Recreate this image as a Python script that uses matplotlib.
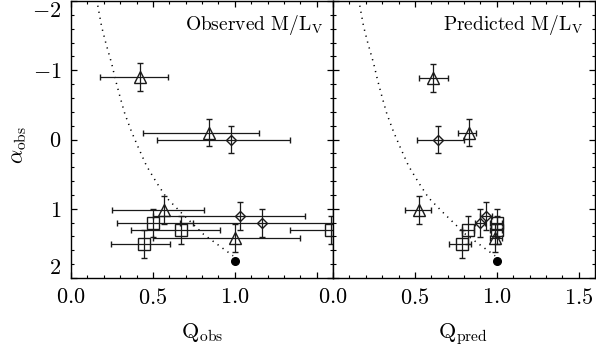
import matplotlib
matplotlib.use('Agg')
import matplotlib.pyplot as plt
from matplotlib.ticker import MultipleLocator, FixedLocator, FixedFormatter

plt.rcParams['font.family'] = 'cmr10'
plt.rcParams['mathtext.fontset'] = 'cm'
plt.rcParams['axes.unicode_minus'] = True

## Data

# dotted model curve, Q vs alpha
curve_q = [0.158, 0.163, 0.187, 0.213, 0.248, 0.272, 0.300, 0.329, 0.370, 0.410,
           0.461, 0.522, 0.583, 0.670, 0.810, 0.990]
curve_a = [-2.02, -1.94, -1.63, -1.39, -1.10, -0.86, -0.61, -0.37, -0.11, 0.11,
           0.38, 0.62, 0.84, 1.05, 1.37, 1.68]
end_q = 1.0
end_a = 1.75

# observed M/L panel
obs_tri_q = [0.42, 0.84, 0.57, 1.00]
obs_tri_a = [-0.90, -0.10, 1.02, 1.42]
obs_tri_lo = [0.24, 0.40, 0.32, 0.50]
obs_tri_hi = [0.17, 0.31, 0.24, 0.40]

obs_dia_q = [0.976, 1.03, 1.166]
obs_dia_a = [0.00, 1.10, 1.21]
obs_dia_lo = [0.45, 0.53, 0.50]
obs_dia_hi = [0.36, 0.40, 0.50]

obs_sq_q = [0.498, 0.669, 0.443, 1.59]
obs_sq_a = [1.21, 1.31, 1.51, 1.31]
obs_sq_lo = [0.22, 0.30, 0.20, 0.25]
obs_sq_hi = [0.25, 0.24, 0.16, 0.25]

# predicted M/L panel
pred_tri_q = [0.61, 0.83, 0.526, 0.99]
pred_tri_a = [-0.89, -0.10, 1.02, 1.42]
pred_tri_lo = [0.085, 0.065, 0.086, 0.03]
pred_tri_hi = [0.09, 0.046, 0.074, 0.04]

pred_dia_q = [0.644, 0.933, 0.900]
pred_dia_a = [0.00, 1.10, 1.21]
pred_dia_lo = [0.128, 0.037, 0.034]
pred_dia_hi = [0.156, 0.037, 0.03]

pred_sq_q = [0.825, 0.785, 1.00, 1.00]
pred_sq_a = [1.31, 1.51, 1.21, 1.31]
pred_sq_lo = [0.035, 0.075, 0.04, 0.04]
pred_sq_hi = [0.035, 0.06, 0.03, 0.03]

a_err = 0.2

xticks = [0.0, 0.5, 1.0, 1.5]
xlabels_obs = ['$0.0$', '$0.5$', '$1.0$', '']
xlabels_pred = ['$0.0$', '$0.5$', '$1.0$', '$1.5$']
yticks = [-2, -1, 0, 1, 2]
ylabels = ['$-2$', '$-1$', '$0$', '$1$', '$2$']

## Figure
W, H = 596, 349
fig = plt.figure(figsize=(W/100, H/100), dpi=100)
ax1 = fig.add_axes([71/W, 1-278/H, 262/W, 277/H])
ax2 = fig.add_axes([333/W, 1-278/H, 262/W, 277/H])

col = '0.1'
eb = dict(linestyle='none', mfc='none', mec=col, mew=1.0, ecolor=col,
          elinewidth=0.9, capsize=2.5, capthick=0.9)


def panel(ax, tq, ta, tlo, thi, dq, da, dlo, dhi, sq, sa, slo, shi):
    ax.plot(curve_q, curve_a, color='k', lw=1.1, linestyle=(0, (0.8, 3.2)))
    ax.plot(end_q, end_a, 'o', color='k', ms=5.5)
    ax.errorbar(tq, ta, xerr=[tlo, thi], yerr=a_err, marker='^', ms=8, **eb)
    ax.errorbar(dq, da, xerr=[dlo, dhi], yerr=a_err, marker='D', ms=5.5, **eb)
    ax.errorbar(sq, sa, xerr=[slo, shi], yerr=a_err, marker='s', ms=8, **eb)
    ax.set_xlim(0, 1.6)
    ax.set_ylim(2, -2)
    ax.xaxis.set_major_locator(FixedLocator(xticks))
    ax.xaxis.set_minor_locator(MultipleLocator(0.1))
    ax.yaxis.set_major_locator(FixedLocator(yticks))
    ax.yaxis.set_minor_locator(MultipleLocator(0.2))
    ax.tick_params(which='both', direction='in', top=True, right=True, colors='k')
    ax.tick_params(which='major', length=4.5, width=0.9, labelsize=16, pad=7)
    ax.tick_params(which='minor', length=2.3, width=0.8)
    for s in ax.spines.values():
        s.set_linewidth(1.0)


panel(ax1, obs_tri_q, obs_tri_a, obs_tri_lo, obs_tri_hi,
      obs_dia_q, obs_dia_a, obs_dia_lo, obs_dia_hi,
      obs_sq_q, obs_sq_a, obs_sq_lo, obs_sq_hi)
panel(ax2, pred_tri_q, pred_tri_a, pred_tri_lo, pred_tri_hi,
      pred_dia_q, pred_dia_a, pred_dia_lo, pred_dia_hi,
      pred_sq_q, pred_sq_a, pred_sq_lo, pred_sq_hi)

ax1.xaxis.set_major_formatter(FixedFormatter(xlabels_obs))
ax2.xaxis.set_major_formatter(FixedFormatter(xlabels_pred))
ax1.yaxis.set_major_formatter(FixedFormatter(ylabels))
ax2.tick_params(labelleft=False)

ticks = ax1.yaxis.get_major_ticks()
ticks[0].label1.set_va('top')
ticks[-1].label1.set_va('bottom')

ax1.text(0.965, 0.955, r'Observed M/L$_{\rm V}$', transform=ax1.transAxes,
         ha='right', va='top', fontsize=14)
ax2.text(0.955, 0.955, r'Predicted M/L$_{\rm V}$', transform=ax2.transAxes,
         ha='right', va='top', fontsize=14)

ax1.set_ylabel(r'$\alpha_{\rm obs}$', fontsize=16)
ax1.yaxis.set_label_coords(-0.16, 0.48)
ax1.set_xlabel(r'$\mathrm{Q}_{\rm obs}$', fontsize=16)
ax1.xaxis.set_label_coords(0.5, -0.155)
ax2.set_xlabel(r'$\mathrm{Q}_{\rm pred}$', fontsize=16)
ax2.xaxis.set_label_coords(0.496, -0.155)

plt.savefig('out.png', dpi=100)
